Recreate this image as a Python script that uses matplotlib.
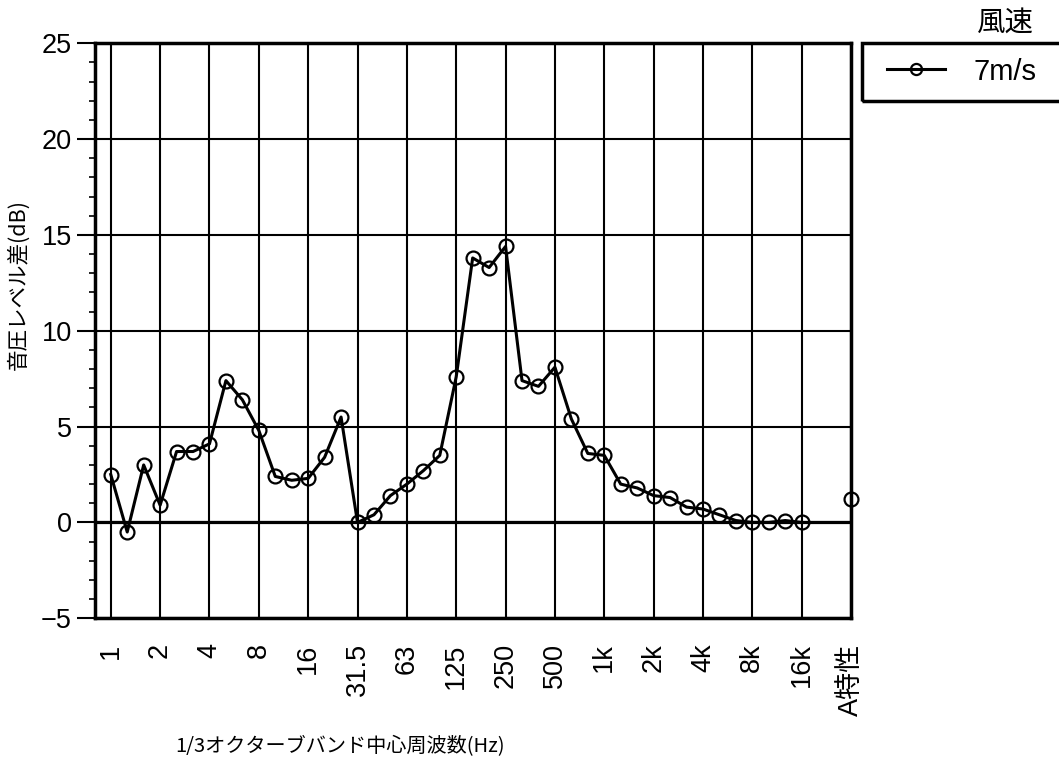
import numpy as np
import matplotlib
matplotlib.use('Agg')
import matplotlib.pyplot as plt
from matplotlib.patches import Rectangle
from matplotlib.ticker import MultipleLocator

plt.rcParams['font.family'] = ['Liberation Sans', 'Noto Sans CJK JP', 'DejaVu Sans']
jp_font = ['Noto Sans CJK JP', 'DejaVu Sans']

# 1/3オクターブバンド (1Hz ~ 16kHz) の音圧レベル差
level_diff = [2.5, -0.5, 3.0, 0.9, 3.7, 3.7, 4.1, 7.4, 6.4, 4.8,
              2.4, 2.2, 2.3, 3.4, 5.5, 0.0, 0.4, 1.4, 2.0, 2.7,
              3.5, 7.6, 13.8, 13.3, 14.4, 7.4, 7.1, 8.1, 5.4, 3.6,
              3.5, 2.0, 1.8, 1.4, 1.3, 0.8, 0.7, 0.4, 0.1, 0.0,
              0.0, 0.1, 0.0]
a_weighted = 1.2
tick_labels = ['1', '2', '4', '8', '16', '31.5', '63', '125', '250', '500',
               '1k', '2k', '4k', '8k', '16k', 'A特性']
series_name = '7m/s'
legend_title = '風速'

n = len(level_diff)
x = np.arange(n)
x_a = n + 2  # A特性 の位置
tick_pos = list(range(0, n, 3)) + [x_a]

fig = plt.figure(figsize=(10.59, 7.65), dpi=100)
ax = fig.add_axes([0.0900, 0.1918, 0.7136, 0.7516])

ax.plot(x, level_diff, '-', color='black', lw=2.2, marker='o', ms=10,
        mfc='none', mec='black', mew=1.6, label=series_name, zorder=3)
ax.plot([x_a], [a_weighted], 'o', ms=10, mfc='none', mec='black', mew=1.6,
        clip_on=False, zorder=3)

ax.set_xlim(-0.94, x_a)
ax.set_ylim(-5, 25)
ax.set_xticks(tick_pos)
ax.set_xticklabels(tick_labels, rotation=90, fontsize=19.5, va='top')
ax.yaxis.set_major_locator(MultipleLocator(5))
ax.yaxis.set_minor_locator(MultipleLocator(1))
ax.tick_params(axis='x', length=0, pad=18)
ax.tick_params(axis='y', which='major', length=13, width=1.5, labelsize=19.5, pad=4)
ax.tick_params(axis='y', which='minor', length=4.5, width=1.2)

ax.grid(True, which='major', color='black', lw=1.5)
ax.axhline(0, color='black', lw=2.3, zorder=2)
for s in ax.spines.values():
    s.set_linewidth(2.5)

# 軸ラベル
fig.text(18 / 1059, 1 - 285 / 765, '音圧レベル差(dB)', rotation=90,
         ha='center', va='center', fontsize=15.5, family=jp_font)
fig.text(340 / 1059, 1 - 747 / 765, '1/3オクターブバンド中心周波数(Hz)',
         ha='center', va='center', fontsize=14.5, family=jp_font)

# 凡例
fig.legend(loc='center left', bbox_to_anchor=(887 / 1059, 1 - 71.7 / 765),
           frameon=False, borderpad=0, borderaxespad=0, handlelength=2.0,
           handletextpad=0.95, fontsize=21, markerscale=0.8)
fig.patches.append(Rectangle((862 / 1059, 1 - 100.7 / 765), 0.25, 58 / 765,
                             transform=fig.transFigure, fill=False,
                             ec='black', lw=2.5))
fig.text(1005 / 1059, 1 - 23 / 765, legend_title, ha='center', va='center',
         fontsize=20.5, family=jp_font)

fig.savefig('out.png', dpi=100)
